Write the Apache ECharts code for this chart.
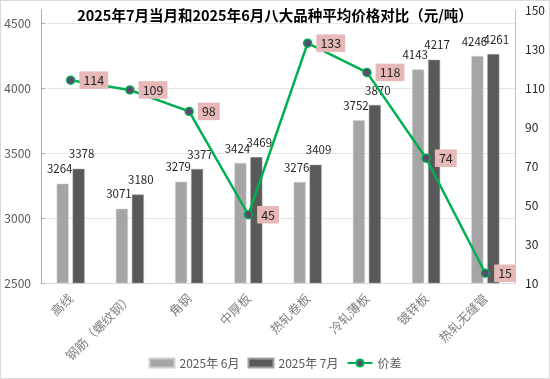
<!DOCTYPE html>
<html><head><meta charset="utf-8">
<script src="https://cdn.jsdelivr.net/npm/echarts@6/dist/echarts.min.js"></script>
<style>html,body{margin:0;padding:0;background:#fff}#c{width:548px;height:377px;border:1px solid #d9d9d9}</style>
</head><body><div id="c"></div>
<script>
const categories = ['高线','钢筋（螺纹钢）','角钢','中厚板','热轧卷板','冷轧薄板','镀锌板','热轧无缝管'];
const june = [3264,3071,3279,3424,3276,3752,4143,4246];
const july = [3378,3180,3377,3469,3409,3870,4217,4261];
const diff = [114,109,98,45,133,118,74,15];
const seriesNames = ['2025年 6月','2025年 7月','价差'];
const chart = echarts.init(document.getElementById('c'));
const font = '"Noto Sans CJK SC", sans-serif';
chart.setOption({
  animation:false,
  textStyle:{fontFamily:font},
  title:{text:'2025年7月当月和2025年6月八大品种平均价格对比（元/吨）',left:'center',top:2,
    textStyle:{fontSize:14.5,fontWeight:'bold',color:'#000',fontFamily:font}},
  legend:{bottom:4,left:'center',itemWidth:25,itemHeight:9,itemGap:8,
    textStyle:{fontSize:12,color:'#595959'},
    data:[{name:seriesNames[0],icon:'rect'},{name:seriesNames[1],icon:'rect'},{name:seriesNames[2]}]},
  grid:{left:40,right:34,top:9,bottom:95},
  xAxis:{type:'category',data:categories,
    axisLine:{lineStyle:{color:'#d9d9d9'}},axisTick:{show:false},
    axisLabel:{rotate:45,fontSize:12.5,color:'#7f7f7f',interval:0,margin:13}},
  yAxis:[
    {type:'value',min:2500,max:4600,interval:500,
     axisLine:{show:true,lineStyle:{color:'#95b3d7'}},
     axisTick:{show:true,inside:true,length:4,lineStyle:{color:'#95b3d7'}},
     axisLabel:{showMaxLabel:false,fontSize:12,color:'#595959',margin:10,formatter:v=>String(v)},
     splitLine:{show:true,showMaxLine:false,lineStyle:{color:'#e6e6e6'}}},
    {type:'value',min:10,max:150,interval:20,position:'right',
     axisLine:{show:true,lineStyle:{color:'#bfbfbf'}},
     axisTick:{show:false},
     axisLabel:{fontSize:12,color:'#262626',margin:10,formatter:v=>String(v)},
     splitLine:{show:false}}
  ],
  series:[
    {name:seriesNames[0],type:'bar',data:june,barWidth:12,barGap:'33%',
     itemStyle:{color:'#a5a5a5',borderColor:'#d0d0d0',borderWidth:0.5},
     label:{show:true,position:'top',distance:9,offset:[-3,0],fontSize:11.5,color:'#262626'}},
    {name:seriesNames[1],type:'bar',data:july,barWidth:12,
     itemStyle:{color:'#595959',borderColor:'#a0a0a0',borderWidth:0.5},
     label:{show:true,position:'top',distance:9,offset:[3,0],fontSize:11.5,color:'#262626'}},
    {name:seriesNames[2],type:'line',yAxisIndex:1,data:diff,z:5,
     symbol:'circle',symbolSize:8,
     lineStyle:{color:'#00b050',width:2.5},
     itemStyle:{color:'#5a4a6e',borderColor:'#00b050',borderWidth:1.5},
     label:{show:true,position:'right',distance:4,fontSize:12.5,color:'#262626',
       backgroundColor:'#e6b9b8',padding:[3,4,2,4]}}
  ]
});
</script></body></html>
